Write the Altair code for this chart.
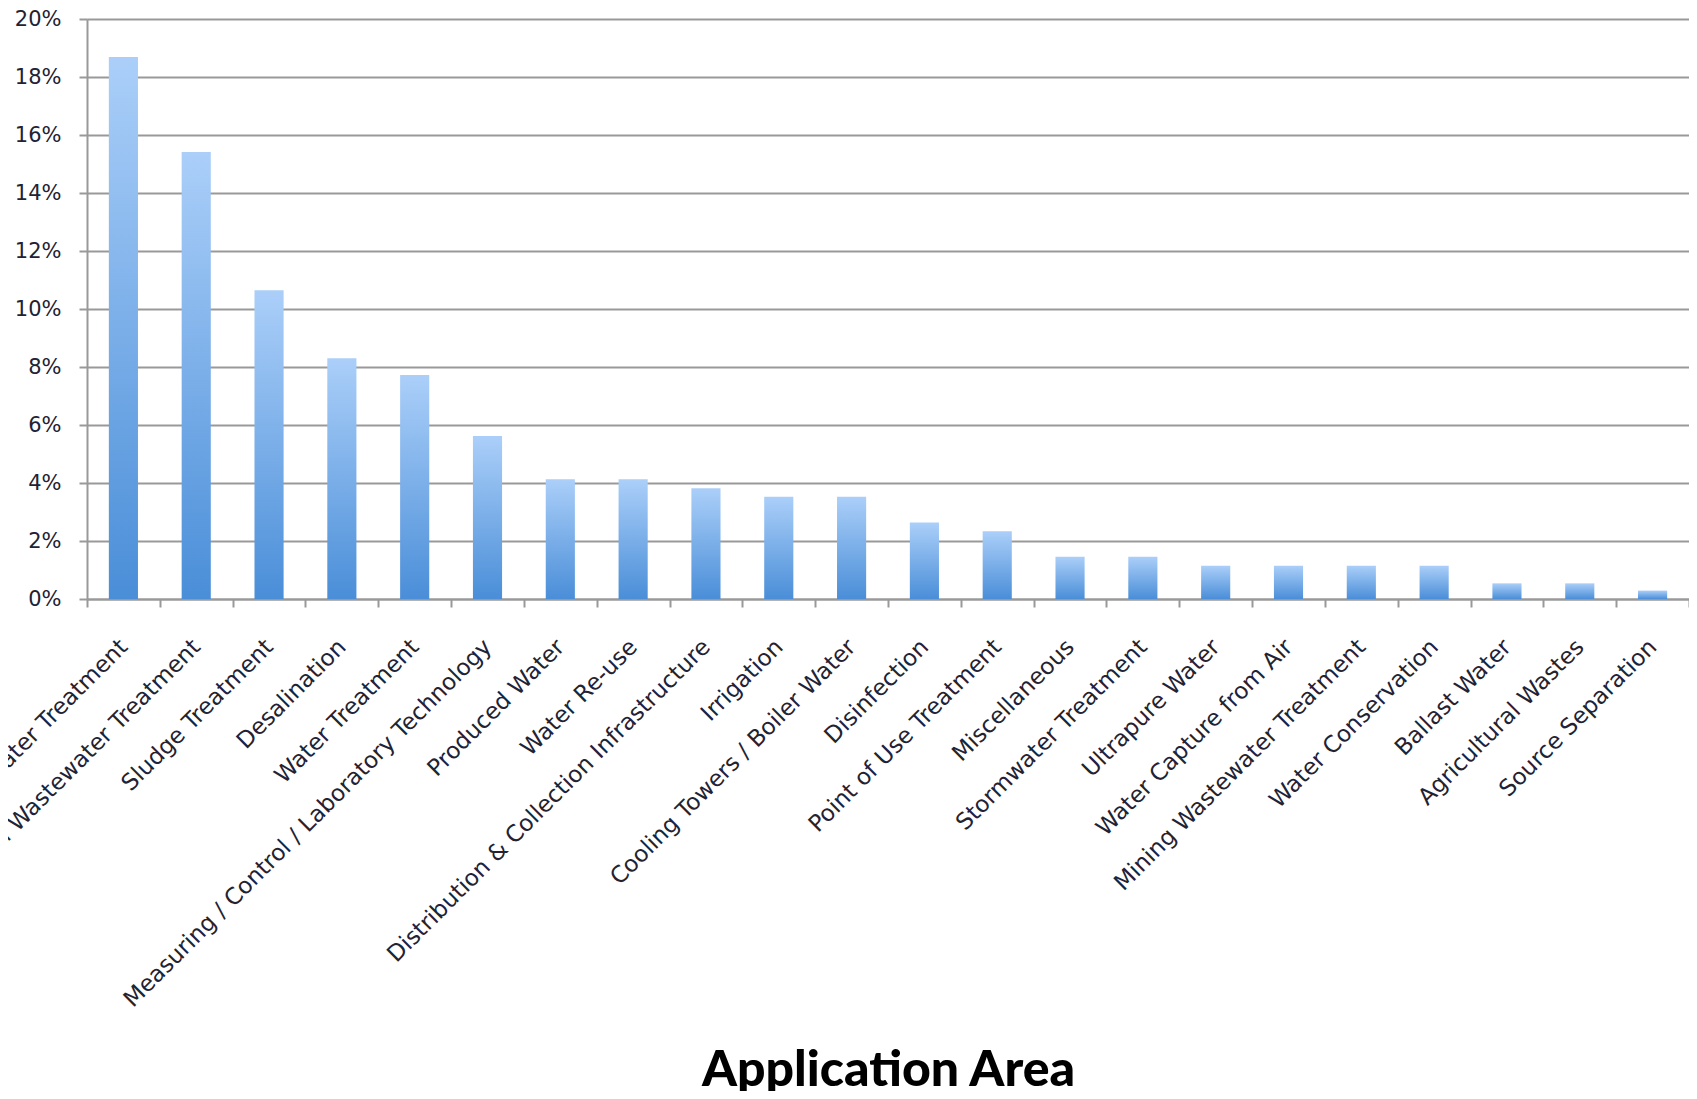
import altair as alt
import pandas as pd

categories = [
    "Municipal Wastewater Treatment",
    "Industrial Wastewater Treatment",
    "Sludge Treatment",
    "Desalination",
    "Water Treatment",
    "Measuring / Control / Laboratory Technology",
    "Produced Water",
    "Water Re-use",
    "Distribution & Collection Infrastructure",
    "Irrigation",
    "Cooling Towers / Boiler Water",
    "Disinfection",
    "Point of Use Treatment",
    "Miscellaneous",
    "Stormwater Treatment",
    "Ultrapure Water",
    "Water Capture from Air",
    "Mining Wastewater Treatment",
    "Water Conservation",
    "Ballast Water",
    "Agricultural Wastes",
    "Source Separation",
]
shares_pct = [18.69, 15.41, 10.65, 8.30, 7.72, 5.62, 4.13, 4.13, 3.82, 3.53, 3.53,
              2.64, 2.34, 1.46, 1.46, 1.15, 1.15, 1.15, 1.15, 0.54, 0.54, 0.29]
y_ticks = [0.0, 0.02, 0.04, 0.06, 0.08, 0.10, 0.12, 0.14, 0.16, 0.18, 0.20]

df = pd.DataFrame({"area": categories, "share": [v / 100 for v in shares_pct]})

gradient = alt.LinearGradient(
    gradient="linear",
    stops=[
        alt.GradientStop(color="#abcff9", offset=0),
        alt.GradientStop(color="#4a8ed8", offset=1),
    ],
    x1=0, x2=0, y1=0, y2=1,
)

chart = alt.Chart(df).mark_bar(
    color=gradient, width=alt.RelativeBandSize(0.4)
).encode(
    x=alt.X(
        "area:N",
        sort=categories,
        scale=alt.Scale(paddingInner=0, paddingOuter=0),
        axis=alt.Axis(
            title="Application Area",
            labelAngle=-45,
            labelAlign="right",
            labelBaseline="middle",
            tickBand="extent",
            tickSize=8,
            tickWidth=2,
            tickColor="#999999",
            domainColor="#999999",
            domainWidth=2,
            labelPadding=36,
            labelFont="DejaVu Sans",
            labelFontSize=23,
            labelColor="#222233",
            labelLimit=1000,
            labelOverlap=False,
            titleFont="Lato",
            titleFontSize=50,
            titleFontWeight=900,
            titleColor="#000000",
            titleY=486,
            titleBaseline="alphabetic",
            grid=False,
        ),
    ),
    y=alt.Y(
        "share:Q",
        scale=alt.Scale(domain=[0, 0.2], nice=False),
        axis=alt.Axis(
            values=y_ticks,
            format=".0%",
            title=None,
            grid=True,
            gridColor="#999999",
            gridWidth=2,
            domainColor="#999999",
            domainWidth=2,
            tickColor="#999999",
            tickWidth=2,
            tickSize=8,
            labelPadding=18,
            labelFont="DejaVu Sans",
            labelFontSize=21,
            labelColor="#222233",
        ),
    ),
).properties(
    width=1602,
    height=580,
    autosize=alt.AutoSizeParams(type="none"),
    padding={"left": 79, "top": 11, "right": 0, "bottom": 492},
).configure_view(stroke=None).configure(background="white")

chart.save("out.html", embed_options={"renderer": "svg", "actions": False})
